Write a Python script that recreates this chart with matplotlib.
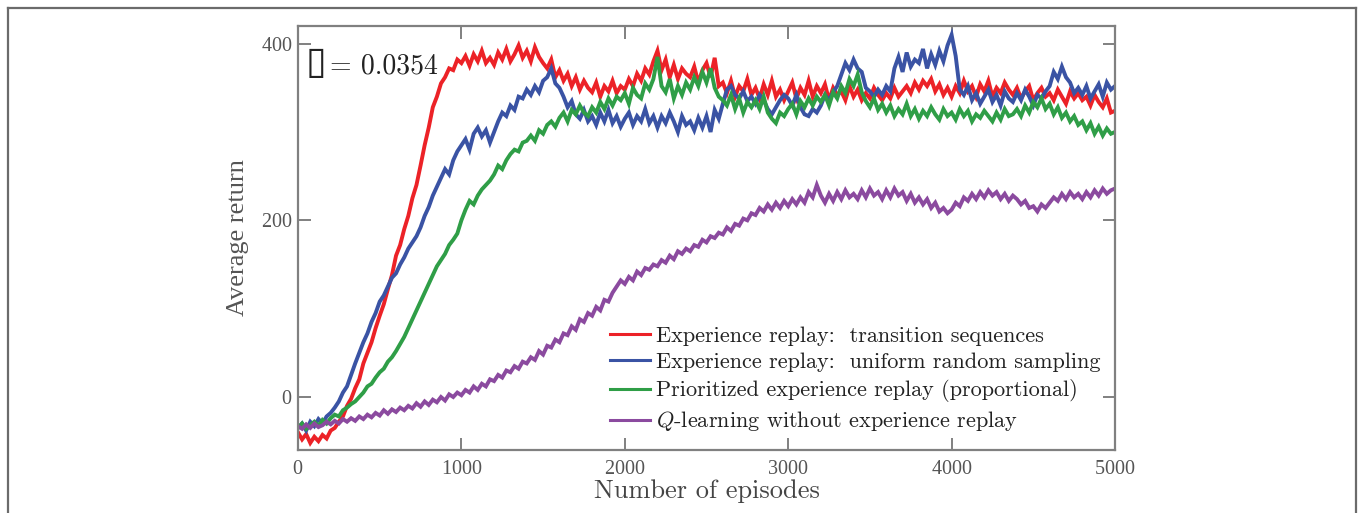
import numpy as np
import matplotlib
matplotlib.use("Agg")
import matplotlib.pyplot as plt
from matplotlib.lines import Line2D

# ---------------- data (every 25 episodes) ----------------
episodes = list(range(0, 5001, 25))

red_transition_sequences = [
    -40, -48, -42, -52, -45, -50, -43, -47,
    -38, -35, -28, -22, -10, -2, 10, 20,
    38, 50, 62, 78, 92, 105, 122, 138,
    160, 172, 190, 205, 225, 240, 262, 285,
    305, 328, 340, 355, 362, 372, 370, 382,
    378, 386, 375, 388, 380, 392, 378, 384,
    376, 390, 382, 394, 380, 388, 398, 384,
    392, 380, 396, 385, 378, 372, 382, 362,
    370, 358, 366, 352, 362, 348, 358, 350,
    345, 356, 340, 352, 346, 358, 344, 352,
    348, 360, 352, 366, 358, 372, 365, 380,
    392, 370, 382, 362, 376, 360, 372, 366,
    362, 374, 356, 370, 378, 362, 384, 352,
    356, 344, 358, 340, 352, 346, 360, 342,
    350, 338, 354, 342, 358, 340, 348, 336,
    346, 356, 338, 350, 342, 358, 340, 352,
    344, 354, 336, 350, 342, 346, 336, 352,
    340, 348, 336, 344, 338, 350, 342, 336,
    344, 338, 350, 340, 346, 352, 344, 356,
    348, 358, 352, 360, 346, 354, 342, 350,
    340, 352, 344, 358, 346, 352, 340, 354,
    346, 358, 340, 350, 344, 356, 348, 342,
    350, 338, 346, 352, 336, 344, 350, 340,
    344, 336, 348, 340, 332, 346, 338, 344,
    336, 340, 330, 342, 334, 328, 338, 322,
    324,
]

blue_uniform_sampling = [
    -35, -30, -38, -28, -33, -25, -30, -22,
    -18, -12, -5, 5, 12, 25, 38, 50,
    62, 72, 85, 95, 108, 115, 125, 135,
    140, 150, 158, 168, 175, 182, 192, 205,
    215, 228, 238, 248, 258, 252, 268, 278,
    285, 292, 280, 298, 305, 295, 302, 288,
    300, 312, 322, 318, 330, 325, 340, 338,
    348, 342, 352, 345, 358, 362, 372, 355,
    350, 340, 328, 335, 320, 315, 325, 312,
    318, 308, 322, 312, 325, 310, 318, 306,
    315, 322, 308, 318, 312, 326, 310, 318,
    305, 318, 310, 322, 312, 300, 318, 308,
    312, 302, 316, 305, 318, 300, 325, 315,
    332, 348, 352, 342, 338, 346, 335, 340,
    332, 342, 336, 326, 320, 328, 336, 342,
    338, 330, 342, 328, 320, 318, 326, 322,
    330, 342, 336, 345, 352, 365, 378, 370,
    382, 372, 368, 350, 346, 340, 348, 342,
    352, 346, 372, 385, 368, 390, 374, 382,
    378, 394, 372, 388, 376, 392, 380, 398,
    410, 386, 348, 342, 352, 336, 344, 332,
    340, 348, 334, 342, 330, 346, 338, 334,
    344, 336, 348, 340, 330, 342, 338, 346,
    352, 368, 360, 374, 362, 356, 344, 350,
    342, 352, 338, 346, 354, 340, 356, 348,
    352,
]

green_prioritized = [
    -35, -30, -36, -32, -28, -33, -26, -30,
    -24, -20, -22, -15, -12, -8, -5, 0,
    5, 12, 15, 22, 28, 32, 40, 45,
    52, 60, 68, 78, 88, 98, 108, 118,
    128, 138, 148, 155, 162, 172, 178, 185,
    200, 212, 222, 218, 228, 235, 240, 245,
    252, 262, 258, 268, 275, 280, 278, 288,
    290, 296, 290, 302, 298, 308, 312, 306,
    316, 322, 312, 325, 320, 330, 322, 318,
    328, 322, 334, 326, 338, 330, 340, 336,
    344, 332, 350, 342, 338, 355, 348, 360,
    385, 352, 345, 360, 338, 352, 342, 356,
    348, 362, 352, 368, 356, 372, 350, 340,
    336, 330, 342, 326, 338, 322, 334, 328,
    336, 326, 340, 322, 315, 310, 322, 318,
    326, 332, 320, 335, 328, 338, 330, 340,
    334, 342, 330, 345, 338, 352, 344, 360,
    352, 365, 345, 335, 328, 338, 325, 332,
    322, 330, 318, 326, 320, 332, 318, 326,
    315, 324, 318, 328, 320, 314, 326, 318,
    322, 314, 326, 318, 324, 312, 320, 316,
    324, 318, 312, 322, 314, 326, 318, 320,
    326, 318, 330, 322, 334, 328, 338, 326,
    332, 320, 328, 316, 322, 312, 318, 308,
    312, 302, 310, 298, 306, 296, 304, 298,
    300,
]

purple_q_learning = [
    -33, -36, -31, -35, -30, -34, -32, -28,
    -31, -27, -30, -25, -28, -24, -27, -22,
    -25, -20, -23, -18, -21, -15, -19, -14,
    -17, -12, -15, -10, -13, -7, -11, -5,
    -9, -3, -6, 0, -4, 3, 0, 5,
    2, 8, 5, 12, 8, 15, 12, 20,
    18, 25, 22, 30, 28, 35, 32, 40,
    38, 45, 42, 52, 48, 58, 56, 65,
    62, 72, 70, 80, 76, 88, 85, 95,
    92, 102, 98, 110, 108, 118, 125, 132,
    128, 136, 132, 142, 138, 146, 144, 150,
    148, 155, 152, 160, 156, 165, 162, 168,
    165, 172, 170, 178, 175, 182, 180, 186,
    184, 192, 188, 196, 194, 202, 200, 208,
    206, 214, 210, 218, 212, 220, 214, 222,
    216, 224, 218, 226, 220, 232, 226, 240,
    228, 220, 230, 222, 232, 224, 234, 226,
    230, 224, 234, 226, 236, 228, 232, 224,
    234, 226, 236, 228, 232, 222, 230, 220,
    226, 218, 224, 214, 220, 210, 214, 208,
    212, 220, 216, 226, 222, 230, 224, 232,
    226, 234, 228, 232, 224, 230, 222, 228,
    224, 218, 222, 214, 216, 210, 218, 214,
    220, 226, 222, 230, 224, 232, 226, 230,
    224, 232, 226, 234, 228, 236, 230, 234,
    236,
]

series_labels = [
    "Experience replay:  transition sequences",
    "Experience replay:  uniform random sampling",
    "Prioritized experience replay (proportional)",
    r"$Q$-learning without experience replay",
]
series_colors = ["#ec2227", "#3a53a4", "#2f9e47", "#8b4a9f"]

x_ticks = [0, 1000, 2000, 3000, 4000, 5000]
y_ticks = [0, 200, 400]
annotation_symbol = "\u25AF"
annotation_value = "= 0.0354"

# ---------------- figure ----------------
plt.rcParams["mathtext.fontset"] = "cm"
plt.rcParams["axes.formatter.use_mathtext"] = True

W, H = 1358, 513
fig = plt.figure(figsize=(W / 100, H / 100), dpi=100)

# outer frame of the picture (left, top, right)
frame_kw = dict(color="#6b6b6b", lw=1.6, transform=fig.transFigure)
fig.add_artist(Line2D([8 / W, 8 / W], [0, 1 - 8 / H], **frame_kw))
fig.add_artist(Line2D([8 / W, 1356 / W], [1 - 8 / H, 1 - 8 / H], **frame_kw))
fig.add_artist(Line2D([1356 / W, 1356 / W], [0, 1 - 8 / H], **frame_kw))

ax = fig.add_axes([298 / W, 63 / H, 817 / W, 424 / H])

all_series = [red_transition_sequences, blue_uniform_sampling,
              green_prioritized, purple_q_learning]
for vals, lab, col in zip(all_series, series_labels, series_colors):
    ax.plot(episodes, vals, color=col, lw=2.8, label=lab, solid_joinstyle="miter")

ax.set_xlim(0, 5000)
ax.set_ylim(-60, 420)
ax.set_xticks(x_ticks)
ax.set_yticks(y_ticks)

spine_col = "#808080"
for s in ax.spines.values():
    s.set_color(spine_col)
    s.set_linewidth(1.6)

ax.tick_params(direction="in", length=9, width=1.4, color=spine_col,
               top=True, right=True, labelcolor="#555555")
ax.tick_params(axis="x", pad=7)
ax.tick_params(axis="y", pad=4)
for lab in ax.get_xticklabels() + ax.get_yticklabels():
    lab.set_family("Liberation Serif")
    lab.set_fontsize(14.5)

ax.set_xlabel("Number of episodes", family="cmr10", fontsize=19, color="#444444")
ax.xaxis.set_label_coords(0.5, -0.068)
ax.xaxis.label.set_va("top")
ax.set_ylabel("Average return", family="Liberation Serif", fontsize=19, color="#555555")
ax.yaxis.set_label_coords(-0.06, 0.5)

ax.text(0.009, 0.889, annotation_symbol, transform=ax.transAxes,
        family="DejaVu Sans", fontsize=27, color="#222222",
        va="baseline", ha="left")
ax.text(0.039, 0.889, annotation_value, transform=ax.transAxes,
        family="cmr10", fontsize=20, color="#222222",
        va="baseline", ha="left")

leg = ax.legend(loc="upper left", bbox_to_anchor=((610 - 298) / 817, (450 - 326) / 424),
                frameon=False, borderpad=0, borderaxespad=0,
                handlelength=1.8, handletextpad=0.25, labelspacing=0.32,
                prop={"family": "cmr10", "size": 16})
for t in leg.get_texts():
    t.set_color("#222222")
for l in leg.get_lines():
    l.set_linewidth(2.2)

fig.savefig("out.png", dpi=100)
